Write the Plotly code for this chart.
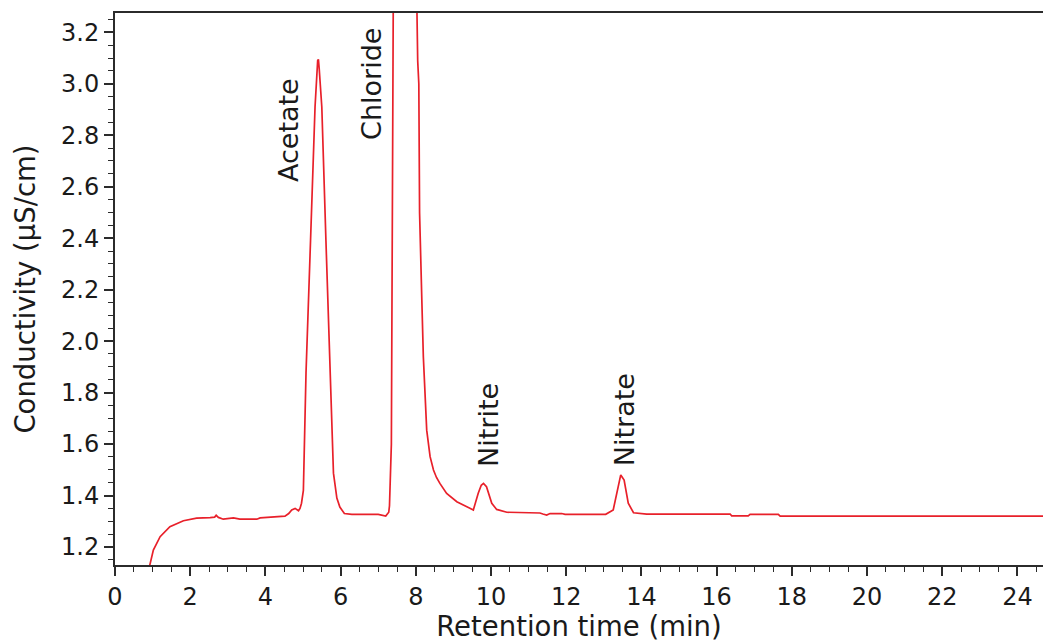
"""
Ion chromatogram: conductivity vs retention time.
"""

import plotly.graph_objects as go

# Retention time (min) and conductivity (uS/cm)
retention_time = [
    0.91, 1.02, 1.20, 1.46, 1.82, 2.17, 2.53, 2.65, 2.69, 2.75, 2.88, 3.00,
    3.15, 3.32, 3.77, 3.86, 4.26, 4.52, 4.62, 4.70, 4.79, 4.88, 4.92, 4.96,
    5.01, 5.08, 5.20, 5.32, 5.39, 5.41, 5.43, 5.50, 5.61, 5.72, 5.81, 5.90,
    5.98, 6.10, 6.30, 7.00, 7.15, 7.20, 7.28, 7.30, 7.35, 7.37, 7.40, 7.75,
    8.00, 8.05, 8.08, 8.10, 8.16, 8.20, 8.29, 8.33, 8.38, 8.47, 8.55, 8.64,
    8.82, 9.09, 9.44, 9.53, 9.66, 9.74, 9.80, 9.88, 10.02, 10.15, 10.42,
    11.30, 11.38, 11.48, 11.57, 11.88, 11.97, 13.05, 13.25, 13.36, 13.45,
    13.54, 13.65, 13.79, 14.14, 16.36, 16.40, 16.84, 16.89, 17.64, 17.69, 25.00,
]
conductivity = [
    1.120, 1.188, 1.240, 1.279, 1.302, 1.312, 1.314, 1.316, 1.323, 1.315, 1.308, 1.309,
    1.313, 1.308, 1.308, 1.313, 1.317, 1.320, 1.330, 1.344, 1.350, 1.341, 1.350, 1.370,
    1.420, 1.876, 2.390, 2.910, 3.090, 3.095, 3.060, 2.910, 2.390, 1.876, 1.487, 1.390,
    1.355, 1.330, 1.327, 1.327, 1.323, 1.320, 1.335, 1.360, 1.600, 2.600, 3.300, 6.000,
    3.600, 3.090, 3.000, 2.500, 2.160, 1.940, 1.654, 1.603, 1.551, 1.499, 1.470, 1.447,
    1.408, 1.376, 1.350, 1.344, 1.409, 1.440, 1.447, 1.434, 1.370, 1.346, 1.335,
    1.332, 1.328, 1.324, 1.330, 1.330, 1.327, 1.327, 1.344, 1.421, 1.480,
    1.460, 1.370, 1.333, 1.328, 1.328, 1.321, 1.321, 1.327, 1.327, 1.320, 1.320,
]

# Peak labels (anchored in data coordinates)
peak_names = ["Acetate", "Chloride", "Nitrite", "Nitrate"]
peak_label_time = [4.60, 6.84, 9.92, 13.54]
peak_label_cond = [2.82, 3.00, 1.674, 1.693]

FONT = "DejaVu Sans"
INK = "#1a1a1a"
AXIS = "#2b2b2b"

fig = go.Figure()

fig.add_trace(
    go.Scatter(
        x=retention_time,
        y=conductivity,
        mode="lines",
        line=dict(color="#e8202a", width=1.7),
        showlegend=False,
    )
)

for name, t, c in zip(peak_names, peak_label_time, peak_label_cond):
    fig.add_annotation(
        x=t, y=c, text=name, textangle=-90, showarrow=False,
        xanchor="center", yanchor="middle",
        font=dict(family=FONT, size=27, color=INK),
    )

fig.update_xaxes(
    range=[0, 24.68],
    dtick=2, tick0=0,
    ticks="outside", ticklen=9, tickwidth=1.5, tickcolor=AXIS,
    minor=dict(dtick=0.5, ticks="outside", ticklen=5, tickwidth=1.2, tickcolor=AXIS),
    showline=True, linecolor=AXIS, linewidth=2, mirror=True,
    showgrid=False, zeroline=False,
    tickfont=dict(family=FONT, size=24, color=INK),
    title=dict(text="Retention time (min)", standoff=9,
               font=dict(family=FONT, size=27.5, color=INK)),
)

fig.update_yaxes(
    range=[1.13, 3.275],
    dtick=0.2, tick0=0, tickformat=".1f",
    ticks="outside", ticklen=9, tickwidth=1.5, tickcolor=AXIS,
    minor=dict(dtick=0.05, ticks="outside", ticklen=5, tickwidth=1.2, tickcolor=AXIS),
    showline=True, linecolor=AXIS, linewidth=2,
    showgrid=False, zeroline=False,
    tickfont=dict(family=FONT, size=24, color=INK),
    title=dict(text="Conductivity (µS/cm)", standoff=17,
               font=dict(family=FONT, size=27.5, color=INK)),
)

fig.update_layout(
    width=1043,
    height=642,
    margin=dict(l=115, r=0, t=13, b=77),
    plot_bgcolor="white",
    paper_bgcolor="white",
    showlegend=False,
)

# drop the default body margin so the figure fills the window exactly
fig.write_html(
    "out.html",
    config={"displayModeBar": False},
    post_script="document.body.style.margin = '0';",
)
